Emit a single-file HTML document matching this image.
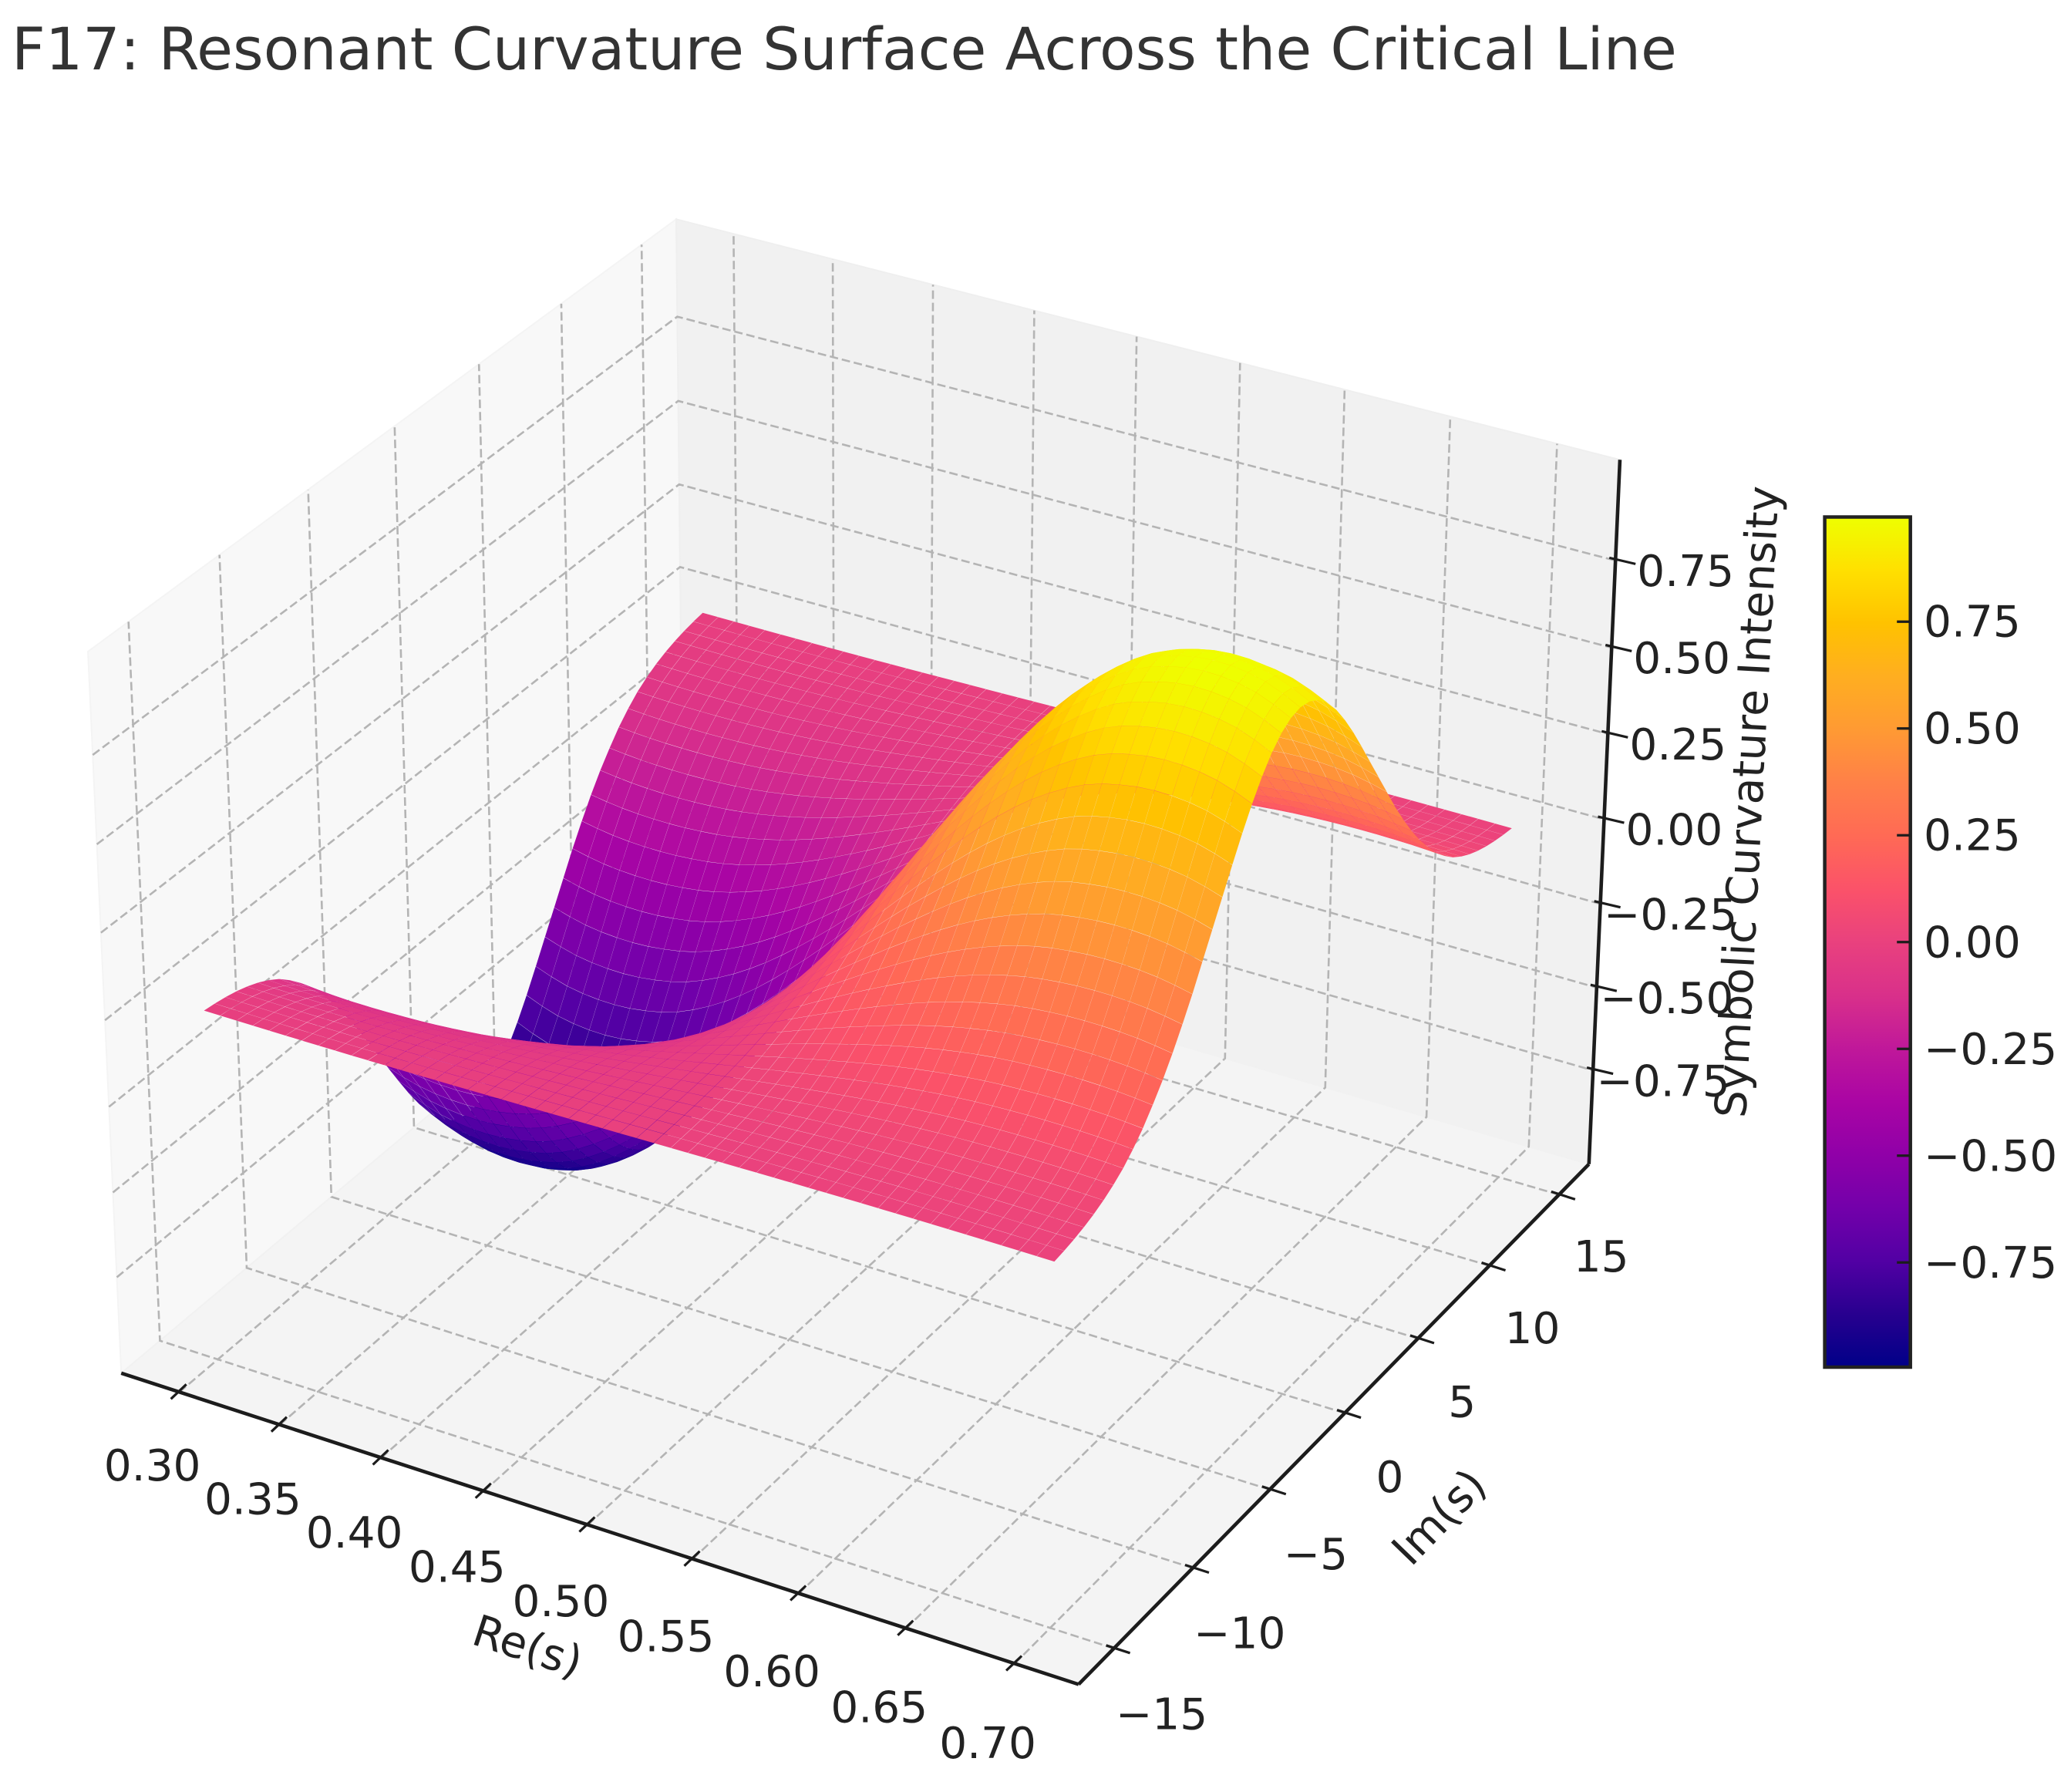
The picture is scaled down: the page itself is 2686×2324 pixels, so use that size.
<!DOCTYPE html>
<html lang="en">
<head>
<meta charset="utf-8">
<title>F17: Resonant Curvature Surface Across the Critical Line</title>
<style>
html,body{margin:0;padding:0;background:#fff;}
svg{display:block;}
text{font-family:"DejaVu Sans","Liberation Sans",sans-serif;}
</style>
</head>
<body>
<svg id="chart" xmlns="http://www.w3.org/2000/svg" width="2686" height="2324" viewBox="0 0 2686 2324">
  <rect x="0" y="0" width="2686" height="2324" fill="#ffffff"/>
  <text x="15" y="90" font-size="76.2" fill="#333333">F17: Resonant Curvature Surface Across the Critical Line</text>
  <g id="panes"></g>
  <g id="grid" fill="none" stroke="#b4b4b4" stroke-width="2.6" stroke-dasharray="11 5"></g>
  <g id="axes" fill="none" stroke="#1c1c1c"></g>
  <g id="ticklabels" font-size="56.5" fill="#222222" text-anchor="middle"></g>
  <text transform="translate(684 2136) rotate(18)" font-size="56.5" fill="#222222" text-anchor="middle" dominant-baseline="central">Re(s)</text>
  <text transform="translate(1867 1968) rotate(-46)" font-size="56.5" fill="#222222" text-anchor="middle" dominant-baseline="central">Im(s)</text>
  <text transform="translate(2267 1040) rotate(-87)" font-size="56.5" fill="#222222" text-anchor="middle" dominant-baseline="central">Symbolic Curvature Intensity</text>
  <g id="surface"></g>
  <defs>
    <linearGradient id="cbarGradient" x1="0" y1="1" x2="0" y2="0"></linearGradient>
  </defs>
  <g id="colorbar"></g>
</svg>
<script>
// Grid coordinates of the surface
const reValues = [0.300,0.308,0.316,0.324,0.332,0.340,0.348,0.356,0.364,0.372,0.380,0.388,0.396,0.404,0.412,0.420,0.428,0.436,0.444,0.452,0.460,0.468,0.476,0.484,0.492,0.500,0.508,0.516,0.524,0.532,0.540,0.548,0.556,0.564,0.572,0.580,0.588,0.596,0.604,0.612,0.620,0.628,0.636,0.644,0.652,0.660,0.668,0.676,0.684,0.692,0.700];
const imValues = [-15,-14.4,-13.8,-13.2,-12.6,-12,-11.4,-10.8,-10.2,-9.6,-9,-8.4,-7.8,-7.2,-6.6,-6,-5.4,-4.8,-4.2,-3.6,-3,-2.4,-1.8,-1.2,-0.6,0,0.6,1.2,1.8,2.4,3,3.6,4.2,4.8,5.4,6,6.6,7.2,7.8,8.4,9,9.6,10.2,10.8,11.4,12,12.6,13.2,13.8,14.4,15];
// Height profile read across Re(s), and its envelope read along Im(s)
const reProfile = [-0.9350,-0.9600,-0.9800,-0.9920,-0.9985,-1.0000,-0.9960,-0.9860,-0.9720,-0.9510,-0.9220,-0.8870,-0.8470,-0.8010,-0.7500,-0.6940,-0.6340,-0.5710,-0.5060,-0.4380,-0.3680,-0.2970,-0.2240,-0.1500,-0.0750,0,0.0750,0.1500,0.2240,0.2970,0.3680,0.4380,0.5060,0.5710,0.6340,0.6940,0.7500,0.8010,0.8470,0.8870,0.9220,0.9510,0.9720,0.9860,0.9960,1.0000,0.9985,0.9920,0.9800,0.9600,0.9350];
const imProfile = [0.0111,0.0158,0.0222,0.0306,0.0418,0.0561,0.0744,0.0970,0.1270,0.1620,0.2050,0.2520,0.3060,0.3660,0.4300,0.5000,0.5700,0.6400,0.7100,0.7780,0.8400,0.8950,0.9400,0.9730,0.9930,1,0.9930,0.9730,0.9400,0.8950,0.8400,0.7780,0.7100,0.6400,0.5700,0.5000,0.4300,0.3660,0.3060,0.2520,0.2050,0.1620,0.1270,0.0970,0.0744,0.0561,0.0418,0.0306,0.0222,0.0158,0.0111];
// Axis ticks and labels
const reTicks = [0.30,0.35,0.40,0.45,0.50,0.55,0.60,0.65,0.70];
const reTickLabels = ["0.30","0.35","0.40","0.45","0.50","0.55","0.60","0.65","0.70"];
const imTicks = [-15,-10,-5,0,5,10,15];
const imTickLabels = ["\u221215","\u221210","\u22125","0","5","10","15"];
const zTicks = [-0.75,-0.5,-0.25,0,0.25,0.5,0.75];
const zTickLabels = ["\u22120.75","\u22120.50","\u22120.25","0.00","0.25","0.50","0.75"];
// Axis limits (data range plus matplotlib's padding)
const reLimits = [0.27083,0.72917];
const imLimits = [-17.19,17.19];
const zLimits = [-1.036,1.036];
const colorLimits = [-0.995,0.995];
// Colormap as it appears in the reference, bottom to top
const colormap = ["#000088","#28008f","#5200a4","#7300aa","#9000a8","#aa05a4","#c0189a","#d9308a","#e9417e","#fb5269","#ff6a55","#ff8048","#ff9a33","#ffae20","#ffc200","#ffe000","#eeff00"];

const NS = "http://www.w3.org/2000/svg";
const boxXY = 1.14287, boxZ = 0.85715;
const scale = 12450, originX = 1125.9, originY = 1190.5;

function project(x, y, z) {
  const px = ((x - reLimits[0]) / (reLimits[1] - reLimits[0]) - 0.5) * boxXY;
  const py = ((y - imLimits[0]) / (imLimits[1] - imLimits[0]) - 0.5) * boxXY;
  const pz = ((z - zLimits[0]) / (zLimits[1] - zLimits[0]) - 0.5) * boxZ;
  const u = 0.8660254 * px + 0.5 * py;
  const v = -0.25 * px + 0.4330127 * py + 0.8660254 * pz;
  const w = 0.4330127 * px - 0.75 * py + 0.5 * pz;
  const d = 10 - w;
  return [originX + scale * u / d, originY - scale * v / d, d];
}
function hexToRgb(h) {
  return [parseInt(h.slice(1, 3), 16), parseInt(h.slice(3, 5), 16), parseInt(h.slice(5, 7), 16)];
}
const colormapRgb = colormap.map(hexToRgb);
function colorFor(value) {
  let t = (value - colorLimits[0]) / (colorLimits[1] - colorLimits[0]);
  t = Math.max(0, Math.min(1, t)) * (colormapRgb.length - 1);
  const i = Math.min(colormapRgb.length - 2, Math.floor(t));
  const f = t - i;
  const a = colormapRgb[i], b = colormapRgb[i + 1];
  return "rgb(" + Math.round(a[0] + (b[0] - a[0]) * f) + "," + Math.round(a[1] + (b[1] - a[1]) * f) + "," + Math.round(a[2] + (b[2] - a[2]) * f) + ")";
}
function pointsAttr(list) {
  return list.map(function (p) { return p[0].toFixed(2) + "," + p[1].toFixed(2); }).join(" ");
}
function make(tag, parent) {
  const el = document.createElementNS(NS, tag);
  parent.appendChild(el);
  return el;
}

const xLo = reLimits[0], xHi = reLimits[1], yLo = imLimits[0], yHi = imLimits[1], zLo = zLimits[0], zHi = zLimits[1];

/* ---- panes ---- */
const panesGroup = document.getElementById("panes");
const leftPane = make("polygon", panesGroup);


leftPane.setAttribute("points", pointsAttr([project(xLo,yLo,zLo), project(xLo,yHi,zLo), project(xLo,yHi,zHi), project(xLo,yLo,zHi)]));
leftPane.setAttribute("fill", "#f8f8f8");
leftPane.setAttribute("stroke", "#f4f4f4");
leftPane.setAttribute("stroke-width", "2");
const backPane = make("polygon", panesGroup);


backPane.setAttribute("points", pointsAttr([project(xLo,yHi,zLo), project(xHi,yHi,zLo), project(xHi,yHi,zHi), project(xLo,yHi,zHi)]));
backPane.setAttribute("fill", "#f1f1f1");
backPane.setAttribute("stroke", "#efefef");
backPane.setAttribute("stroke-width", "2");
const floorPane = make("polygon", panesGroup);


floorPane.setAttribute("points", pointsAttr([project(xLo,yLo,zLo), project(xHi,yLo,zLo), project(xHi,yHi,zLo), project(xLo,yHi,zLo)]));
floorPane.setAttribute("fill", "#f4f4f4");
floorPane.setAttribute("stroke", "#f1f1f1");
floorPane.setAttribute("stroke-width", "2");

/* ---- grid ---- */
const gridGroup = document.getElementById("grid");
reTicks.forEach(function (t) {
  const line = make("polyline", gridGroup);
  
  
  line.setAttribute("points", pointsAttr([project(t,yLo,zLo), project(t,yHi,zLo), project(t,yHi,zHi)]));
});
imTicks.forEach(function (t) {
  const line = make("polyline", gridGroup);
  
  
  line.setAttribute("points", pointsAttr([project(xHi,t,zLo), project(xLo,t,zLo), project(xLo,t,zHi)]));
});
zTicks.forEach(function (t) {
  const line = make("polyline", gridGroup);
  
  
  line.setAttribute("points", pointsAttr([project(xLo,yLo,t), project(xLo,yHi,t), project(xHi,yHi,t)]));
});

/* ---- axis lines, ticks, tick labels ---- */
const axesGroup = document.getElementById("axes");
const labelGroup = document.getElementById("ticklabels");
const axisX = make("line", axesGroup);


axisX.setAttribute("stroke-width", "4.6");
const ax0 = project(xLo,yLo,zLo), ax1 = project(xHi,yLo,zLo), ax2 = project(xHi,yHi,zLo), ax3 = project(xHi,yHi,zHi);
axisX.setAttribute("x1", ax0[0]); axisX.setAttribute("y1", ax0[1]);
axisX.setAttribute("x2", ax1[0]); axisX.setAttribute("y2", ax1[1]);
const axisY = make("line", axesGroup);


axisY.setAttribute("stroke-width", "4.6");
axisY.setAttribute("x1", ax1[0]); axisY.setAttribute("y1", ax1[1]);
axisY.setAttribute("x2", ax2[0]); axisY.setAttribute("y2", ax2[1]);
const axisZ = make("line", axesGroup);


axisZ.setAttribute("stroke-width", "4.6");
axisZ.setAttribute("x1", ax2[0]); axisZ.setAttribute("y1", ax2[1]);
axisZ.setAttribute("x2", ax3[0]); axisZ.setAttribute("y2", ax3[1]);

function tickMark(name, p, inner, outer) {
  const m = make("line", axesGroup);
  
  
  m.setAttribute("stroke-width", "3.2");
  m.setAttribute("x1", p[0] + inner[0]); m.setAttribute("y1", p[1] + inner[1]);
  m.setAttribute("x2", p[0] + outer[0]); m.setAttribute("y2", p[1] + outer[1]);
}
function tickText(name, text, cx, cy) {
  const t = make("text", labelGroup);
  
  
  t.setAttribute("x", cx.toFixed(1));
  t.setAttribute("y", (cy + 20.6).toFixed(1));
  t.textContent = text;
}
reTicks.forEach(function (t, i) {
  const p = project(t, yLo, zLo);
  tickMark("x-tick", p, [9, -10], [-11, 9]);
  tickText("x-tick-label", reTickLabels[i], p[0] - 35, p[1] + 94 + i);
});
imTicks.forEach(function (t, i) {
  const p = project(xHi, t, zLo);
  tickMark("y-tick", p, [-10, -4], [21, 6]);
  tickText("y-tick-label", imTickLabels[i], p[0] + 62 - i * 1.2, p[1] + 84 - i * 0.8);
});
zTicks.forEach(function (t, i) {
  const p = project(xHi, yHi, t);
  tickMark("z-tick", p, [-8, -3.6], [26, 4.4]);
  tickText("z-tick-label", zTickLabels[i], p[0] + 91, p[1] + 12.5);
});

/* ---- surface ---- */
const seamInset = 0.18;
const seamInsetMax = 0.025;
function insetCell(pts) {
  let cx = 0, cy = 0;
  pts.forEach(function (p) { cx += p[0] / 4; cy += p[1] / 4; });
  return pts.map(function (p) {
    const dx = cx - p[0], dy = cy - p[1];
    const dist = Math.sqrt(dx * dx + dy * dy) || 1;
    const f = Math.min(seamInset / dist, seamInsetMax);
    return [p[0] + dx * f, p[1] + dy * f];
  });
}
const cells = [];
for (let i = 0; i < reValues.length - 1; i++) {
  for (let j = 0; j < imValues.length - 1; j++) {
    const corners = [[i, j], [i + 1, j], [i + 1, j + 1], [i, j + 1]];
    let sum = 0, depth = 0;
    const pts = corners.map(function (c) {
      const z = reProfile[c[0]] * imProfile[c[1]];
      const p = project(reValues[c[0]], imValues[c[1]], z);
      sum += z;
      depth += p[2];
      return p;
    });
    cells.push({ pts: insetCell(pts), value: sum / 4, depth: depth / 4 });
  }
}
cells.sort(function (a, b) { return b.depth - a.depth; });
const surfaceGroup = document.getElementById("surface");
cells.forEach(function (c) {
  const cell = make("polygon", surfaceGroup);
  
  
  cell.setAttribute("points", pointsAttr(c.pts));
  cell.setAttribute("fill", colorFor(c.value));
});

/* ---- colorbar ---- */
const cbarTicks = [-0.75,-0.5,-0.25,0,0.25,0.5,0.75];
const cbarTickLabels = ["\u22120.75","\u22120.50","\u22120.25","0.00","0.25","0.50","0.75"];
const cbarLeft = 2366.6, cbarRight = 2477.7, cbarTop = 670.5, cbarBottom = 1773;
function cbarY(v) {
  return cbarBottom - (v - colorLimits[0]) / (colorLimits[1] - colorLimits[0]) * (cbarBottom - cbarTop);
}
const gradient = document.getElementById("cbarGradient");
colormap.forEach(function (c, i) {
  const s = make("stop", gradient);
  s.setAttribute("offset", (i / (colormap.length - 1)).toFixed(4));
  s.setAttribute("stop-color", c);
});
const cbarGroup = document.getElementById("colorbar");
const cbarRect = make("rect", cbarGroup);


cbarRect.setAttribute("x", cbarLeft);
cbarRect.setAttribute("y", cbarTop);
cbarRect.setAttribute("width", cbarRight - cbarLeft);
cbarRect.setAttribute("height", cbarBottom - cbarTop);
cbarRect.setAttribute("fill", "url(#cbarGradient)");
cbarRect.setAttribute("stroke", "#222222");
cbarRect.setAttribute("stroke-width", "4.5");
cbarTicks.forEach(function (v, i) {
  const y = cbarY(v);
  const tick = make("line", cbarGroup);
  
  
  tick.setAttribute("x1", cbarRight - 17.5);
  tick.setAttribute("x2", cbarRight);
  tick.setAttribute("y1", y);
  tick.setAttribute("y2", y);
  tick.setAttribute("stroke", "#1c1c1c");
  tick.setAttribute("stroke-width", "3.2");
  const label = make("text", cbarGroup);
  
  
  label.setAttribute("x", 2495);
  label.setAttribute("y", (y + 19.5).toFixed(1));
  label.setAttribute("font-size", "56.5");
  label.setAttribute("fill", "#222222");
  label.textContent = cbarTickLabels[i];
});
</script>
</body>
</html>
